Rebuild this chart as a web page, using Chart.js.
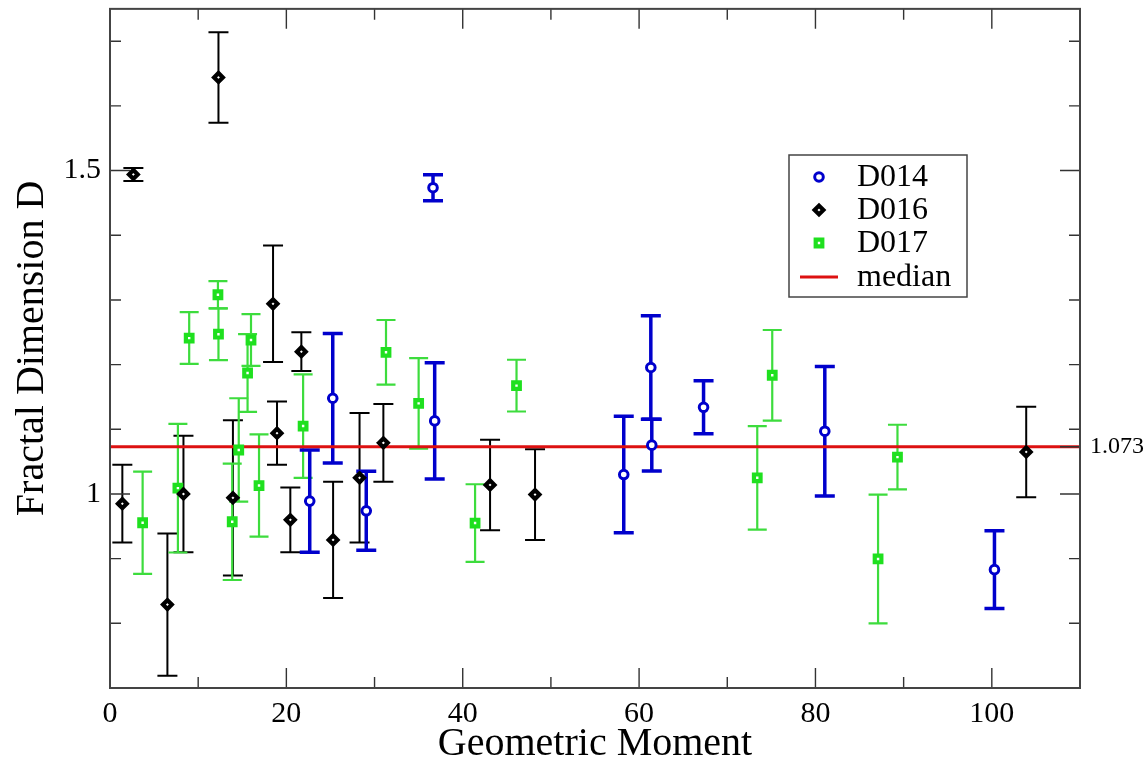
<!DOCTYPE html>
<html>
<head>
<meta charset="utf-8">
<script src="https://cdn.jsdelivr.net/npm/chart.js@4.4.1/dist/chart.umd.min.js"></script>
<style>
html,body{margin:0;padding:0;background:#fff;overflow:hidden;}
#c{display:block;}
</style>
</head>
<body>
<canvas id="c" width="1148" height="764"></canvas>
<script>
// ---------------- DATA ----------------
const d014X   = [22.65, 25.26, 29.06, 36.63, 36.82, 58.26, 61.33, 61.44, 67.31, 81.06, 100.3];
const d014Y   = [0.989, 1.148, 0.974, 1.4735, 1.113, 1.030, 1.1955, 1.0755, 1.134, 1.097, 0.883];
const d014Err = [0.079, 0.100, 0.061, 0.020, 0.090, 0.090, 0.080, 0.040, 0.041, 0.100, 0.060];

const d016X   = [1.40, 2.65, 6.51, 8.33, 12.3, 13.94, 18.49, 18.94, 20.45, 21.7, 25.3, 28.3, 31.0, 43.1, 48.2, 103.9];
const d016Y   = [0.985, 1.494, 0.829, 1.000, 1.644, 0.994, 1.294, 1.094, 0.960, 1.220, 0.929, 1.025, 1.079, 1.014, 0.999, 1.065];
const d016Err = [0.060, 0.010, 0.110, 0.090, 0.070, 0.120, 0.090, 0.049, 0.050, 0.030, 0.090, 0.100, 0.060, 0.070, 0.070, 0.070];

const d017X   = [3.7, 7.7, 8.98, 12.24, 12.3, 13.86, 14.6, 15.6, 15.99, 16.9, 21.9, 31.3, 35.0, 41.4, 46.1, 73.4, 75.1, 87.1, 89.3];
const d017Y   = [0.9555, 1.009, 1.241, 1.308, 1.247, 0.957, 1.068, 1.187, 1.238, 1.013, 1.105, 1.219, 1.140, 0.955, 1.1675, 1.025, 1.1835, 0.8995, 1.057];
const d017Err = [0.079, 0.0995, 0.040, 0.021, 0.040, 0.090, 0.080, 0.060, 0.040, 0.079, 0.080, 0.050, 0.070, 0.060, 0.040, 0.080, 0.070, 0.0995, 0.050];

const medianValue = 1.073;
const medianLabel = '1.073';
const medianXRange = [0, 110];

const xTickValues = [0, 20, 40, 60, 80, 100];
const xMinorTicks = [10, 30, 50, 70, 90];
const yTickValues = [1, 1.5];
const yMinorTicks = [0.8, 0.9, 1.1, 1.2, 1.3, 1.4, 1.6, 1.7];
const seriesNames = ['D014', 'D016', 'D017', 'median'];
const xTitle = 'Geometric Moment';
const yTitle = 'Fractal Dimension D';

// ---------------- STYLE ----------------
const BLUE = '#0000cc', BLACK = '#000000', GREEN = '#1fe01f', GREEN_BAR = '#3ddc3d', RED = '#dd1111';
const FONT = "'Liberation Serif', 'Times New Roman', serif";

const toPts = (xs, ys) => xs.map((x, i) => ({x: x, y: ys[i]}));

function drawMarker(ctx, style, x, y) {
  ctx.save();
  if (style === 'circle') {
    ctx.beginPath(); ctx.arc(x, y, 4.3, 0, Math.PI * 2);
    ctx.fillStyle = '#fff'; ctx.fill();
    ctx.lineWidth = 3; ctx.strokeStyle = BLUE; ctx.stroke();
  } else if (style === 'diamond') {
    const r = 4.4;
    ctx.beginPath(); ctx.moveTo(x - r, y); ctx.lineTo(x, y - r); ctx.lineTo(x + r, y); ctx.lineTo(x, y + r); ctx.closePath();
    ctx.fillStyle = '#fff'; ctx.fill();
    ctx.lineWidth = 4.2; ctx.strokeStyle = BLACK; ctx.stroke();
  } else if (style === 'square') {
    const s = 3.3;
    ctx.beginPath(); ctx.rect(x - s, y - s, 2 * s, 2 * s);
    ctx.fillStyle = '#fff'; ctx.fill();
    ctx.lineWidth = 4.2; ctx.strokeStyle = GREEN; ctx.stroke();
  } else if (style === 'line') {
    ctx.beginPath(); ctx.moveTo(x - 19, y); ctx.lineTo(x + 19, y);
    ctx.lineWidth = 3; ctx.strokeStyle = RED; ctx.stroke();
  }
  ctx.restore();
}

function drawErrorBars(chart, xs, ys, es, color, lw, capHalf) {
  const ctx = chart.ctx, sx = chart.scales.x, sy = chart.scales.y;
  ctx.save();
  ctx.strokeStyle = color; ctx.lineWidth = lw; ctx.lineCap = 'butt';
  for (let i = 0; i < xs.length; i++) {
    const px = sx.getPixelForValue(xs[i]);
    const pt = sy.getPixelForValue(ys[i] + es[i]);
    const pb = sy.getPixelForValue(ys[i] - es[i]);
    ctx.beginPath();
    ctx.moveTo(px, pt); ctx.lineTo(px, pb);
    ctx.moveTo(px - capHalf, pt); ctx.lineTo(px + capHalf, pt);
    ctx.moveTo(px - capHalf, pb); ctx.lineTo(px + capHalf, pb);
    ctx.stroke();
  }
  ctx.restore();
}

const gracePlugin = {
  id: 'grace',
  beforeDatasetsDraw(chart) {
    drawErrorBars(chart, d016X, d016Y, d016Err, BLACK, 2, 10);
    drawErrorBars(chart, d017X, d017Y, d017Err, GREEN_BAR, 2.2, 9.5);
    drawErrorBars(chart, d014X, d014Y, d014Err, BLUE, 3.5, 10);
  },
  afterDatasetsDraw(chart) {
    const ctx = chart.ctx, a = chart.chartArea, sx = chart.scales.x, sy = chart.scales.y;
    ctx.save();
    ctx.strokeStyle = '#333'; ctx.lineWidth = 1.4;
    ctx.beginPath();
    const xt = (vals, len) => vals.forEach(v => {
      const p = sx.getPixelForValue(v);
      ctx.moveTo(p, a.bottom); ctx.lineTo(p, a.bottom - len);
      ctx.moveTo(p, a.top); ctx.lineTo(p, a.top + len);
    });
    const yt = (vals, len) => vals.forEach(v => {
      const p = sy.getPixelForValue(v);
      ctx.moveTo(a.left, p); ctx.lineTo(a.left + len, p);
      ctx.moveTo(a.right, p); ctx.lineTo(a.right - len, p);
    });
    xt(xTickValues, 20); xt(xMinorTicks, 11);
    yt(yTickValues, 20); yt(yMinorTicks, 11);
    const pm = sy.getPixelForValue(medianValue);
    ctx.moveTo(a.right, pm); ctx.lineTo(a.right - 20, pm);
    ctx.stroke();
    ctx.strokeStyle = '#444'; ctx.lineWidth = 2;
    ctx.strokeRect(a.left, a.top, a.right - a.left, a.bottom - a.top);
    ctx.fillStyle = '#000'; ctx.font = '24px ' + FONT;
    ctx.textAlign = 'left'; ctx.textBaseline = 'middle';
    ctx.fillText(medianLabel, a.right + 10, pm);
    // legend
    const lx = 789, ly = 155, lw = 178, lh = 142;
    ctx.fillStyle = '#fff'; ctx.fillRect(lx, ly, lw, lh);
    ctx.strokeStyle = '#444'; ctx.lineWidth = 1.5; ctx.strokeRect(lx, ly, lw, lh);
    const styles = ['circle', 'diamond', 'square', 'line'];
    const rows = [177, 210, 243, 277];
    ctx.font = '32px ' + FONT; ctx.textBaseline = 'middle'; ctx.textAlign = 'left';
    seriesNames.forEach((n, i) => {
      drawMarker(ctx, styles[i], 819, rows[i]);
      ctx.fillStyle = '#000';
      ctx.fillText(n, 857, rows[i] + 1);
    });
    ctx.restore();
  }
};

const zeroPad = s => { s.paddingTop = 0; s.paddingBottom = 0; s.paddingLeft = 0; s.paddingRight = 0; };

new Chart(document.getElementById('c'), {
  type: 'scatter',
  data: {
    datasets: [
      {label: 'D014', data: toPts(d014X, d014Y), pointStyle: 'circle', pointRadius: 4.3, borderWidth: 3,
       borderColor: BLUE, backgroundColor: '#fff', order: 0},
      {label: 'D016', data: toPts(d016X, d016Y), pointStyle: 'rectRot', pointRadius: 4.4, borderWidth: 4.2,
       borderColor: BLACK, backgroundColor: '#fff', order: 1},
      {label: 'D017', data: toPts(d017X, d017Y), pointStyle: 'rect', pointRadius: 4.67, borderWidth: 4.2,
       borderColor: GREEN, backgroundColor: '#fff', order: 2},
      {label: 'median', type: 'line', data: toPts(medianXRange, [medianValue, medianValue]),
       borderColor: RED, borderWidth: 3, pointRadius: 0, fill: false, order: 10}
    ]
  },
  options: {
    responsive: false,
    devicePixelRatio: 1,
    animation: false,
    events: [],
    layout: {padding: {left: 0, right: 68, top: 8, bottom: 0}},
    plugins: {legend: {display: false}, tooltip: {enabled: false}},
    scales: {
      x: {
        type: 'linear', min: 0, max: 110,
        afterBuildTicks: s => { s.ticks = xTickValues.map(v => ({value: v})); },
        afterFit: s => { s.height = 76; zeroPad(s); },
        grid: {display: false, drawTicks: false},
        border: {display: false},
        ticks: {color: '#000', font: {family: FONT, size: 30}, padding: 8, maxRotation: 0, autoSkip: false,
                callback: v => String(v)},
        title: {display: true, text: xTitle, color: '#000', font: {family: FONT, size: 40, lineHeight: 1}, padding: 0}
      },
      y: {
        type: 'linear', min: 0.7, max: 1.75,
        afterBuildTicks: s => { s.ticks = yTickValues.map(v => ({value: v})); },
        afterFit: s => { s.width = 110; zeroPad(s); },
        grid: {display: false, drawTicks: false},
        border: {display: false},
        ticks: {color: '#000', font: {family: FONT, size: 30}, padding: 9, autoSkip: false,
                callback: v => String(v)},
        title: {display: true, text: yTitle, color: '#000', font: {family: FONT, size: 40, lineHeight: 1}, padding: {top: 12, bottom: 0}}
      }
    }
  },
  plugins: [gracePlugin]
});
</script>
</body>
</html>
